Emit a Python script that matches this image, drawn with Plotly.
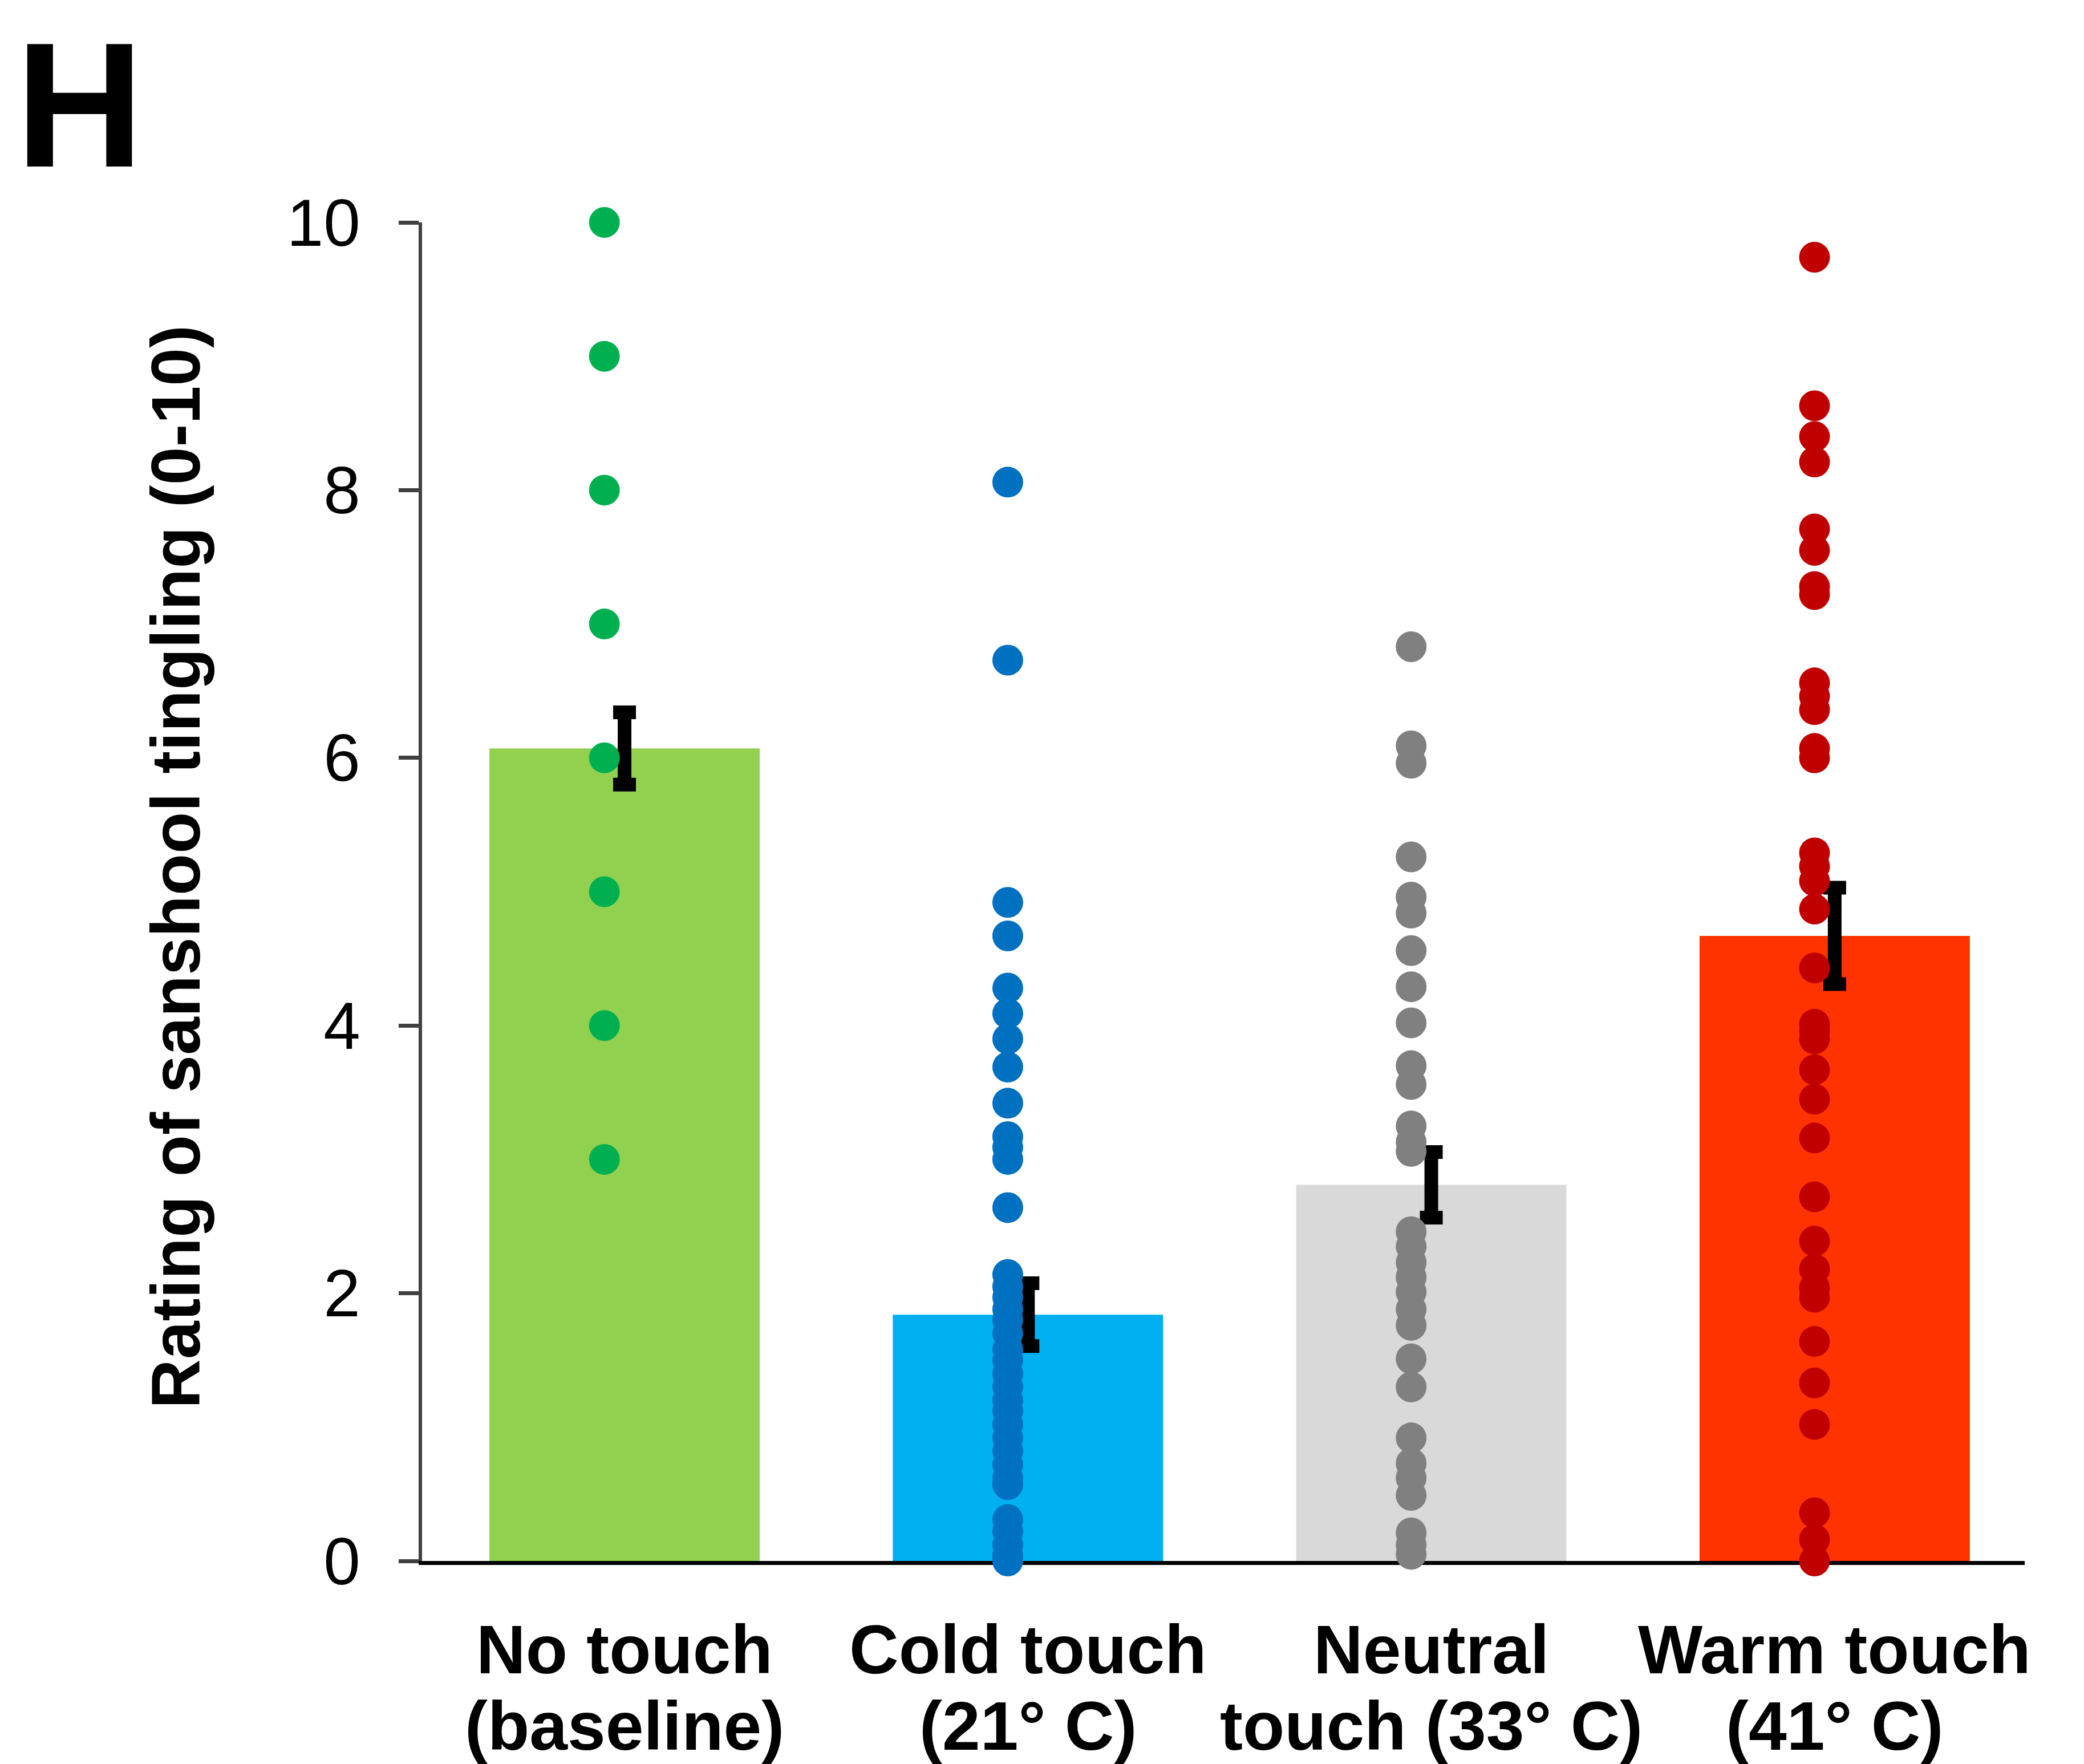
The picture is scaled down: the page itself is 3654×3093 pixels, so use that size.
import plotly.graph_objects as go

# ---- data ----
categories = ["No touch<br>(baseline)", "Cold touch<br>(21° C)",
              "Neutral<br>touch (33° C)", "Warm touch<br>(41° C)"]
bar_means = [6.07, 1.84, 2.81, 4.67]
bar_sem = [0.27, 0.235, 0.245, 0.36]

no_touch = [10, 9, 8, 7, 6, 5, 4, 3]
cold = [8.06, 6.73, 4.92, 4.67, 4.28, 4.09, 3.90, 3.69, 3.42, 3.17, 3.09, 3.00,
        2.64, 2.14, 2.05, 1.97, 1.88, 1.80, 1.70, 1.58, 1.50, 1.40, 1.30, 1.20,
        1.12, 1.02, 0.92, 0.82, 0.72, 0.62, 0.57, 0.31, 0.22, 0.12, 0.04, 0.00]
neutral = [6.83, 6.09, 5.96, 5.26, 4.96, 4.84, 4.56, 4.29, 4.02, 3.70, 3.56,
           3.25, 3.13, 3.06, 2.46, 2.35, 2.23, 2.12, 2.01, 1.88, 1.76, 1.51,
           1.30, 0.92, 0.73, 0.62, 0.49, 0.21, 0.12, 0.05]
warm = [9.74, 8.63, 8.40, 8.21, 7.71, 7.55, 7.28, 7.22, 6.56, 6.46, 6.36, 6.07,
        6.00, 5.29, 5.19, 5.08, 4.87, 4.43, 4.01, 3.96, 3.90, 3.67, 3.45, 3.16,
        2.72, 2.39, 2.18, 2.04, 1.97, 1.64, 1.33, 1.02, 0.36, 0.16, 0.00]
groups = [no_touch, cold, neutral, warm]

y_ticks = [0, 2, 4, 6, 8, 10]
y_title = "Rating of sanshool tingling (0-10)"
panel_label = "H"

# ---- styles ----
bar_colors = ["#92D050", "#00B0F0", "#D9D9D9", "#FF3300"]
dot_colors = ["#00B050", "#0070C0", "#808080", "#C00000"]
dot_offset = -0.05
FONT = "Liberation Sans, Arial, sans-serif"

W, H = 3654, 3093
L, R, T, B = 732, 112, 382, 364
plot_w = W - L - R
plot_h = H - T - B
y_bottom_px = H - B


def py(px):
    """absolute pixel row -> paper y"""
    return (y_bottom_px - px) / plot_h


def pxx(px):
    """absolute pixel column -> paper x"""
    return (px - L) / plot_w


positions = list(range(len(categories)))

fig = go.Figure()
fig.add_trace(go.Bar(
    x=positions, y=bar_means, width=0.67,
    marker=dict(color=bar_colors, line=dict(width=0)),
    error_y=dict(type="data", array=bar_sem, visible=True,
                 color="black", thickness=24, width=20),
    hoverinfo="skip",
))
for i, vals in enumerate(groups):
    fig.add_trace(go.Scatter(
        x=[positions[i] + dot_offset] * len(vals), y=vals,
        mode="markers", cliponaxis=False,
        marker=dict(color=dot_colors[i], size=54, line=dict(width=0)),
        hoverinfo="skip",
    ))

annotations = []
# category labels: two lines each, placed under each category position
line_centers = [2884, 3018]
for pos, cat in zip(positions, categories):
    for li, line in enumerate(cat.split("<br>")):
        annotations.append(dict(
            text="<b>%s</b>" % line, xref="x", yref="paper",
            x=pos, y=py(line_centers[li]),
            xanchor="center", yanchor="middle", showarrow=False,
            font=dict(family=FONT, size=120, color="black")))

annotations.append(dict(
    text="<b>%s</b>" % y_title, textangle=-90,
    xref="paper", yref="paper", x=pxx(300), y=py(1512),
    xanchor="center", yanchor="middle", showarrow=False,
    font=dict(family=FONT, size=120, color="black")))
annotations.append(dict(
    text="<b>%s</b>" % panel_label,
    xref="paper", yref="paper", x=pxx(18), y=py(1),
    xanchor="left", yanchor="top", showarrow=False, borderpad=0,
    font=dict(family=FONT, size=312, color="black")))

fig.update_layout(
    width=W, height=H,
    margin=dict(l=L, r=R, t=T, b=B, pad=0, autoexpand=False),
    paper_bgcolor="white", plot_bgcolor="white",
    showlegend=False,
    font=dict(family=FONT, color="black"),
    xaxis=dict(
        range=[-0.502, 3.471],
        tickvals=positions,
        showticklabels=False,
        automargin=False,
        ticks="", showgrid=False, zeroline=False,
        showline=True, linecolor="black", linewidth=7,
        layer="below traces",
    ),
    yaxis=dict(
        range=[0, 10],
        tickvals=y_ticks,
        tickfont=dict(family=FONT, size=116, color="black"),
        automargin=False,
        ticks="outside", ticklen=35, tickwidth=7, tickcolor="#404040",
        showgrid=False, zeroline=False,
        showline=True, linecolor="#404040", linewidth=6,
        ticklabelstandoff=44,
        layer="below traces",
    ),
    annotations=annotations,
)

fig.write_html("out.html")
